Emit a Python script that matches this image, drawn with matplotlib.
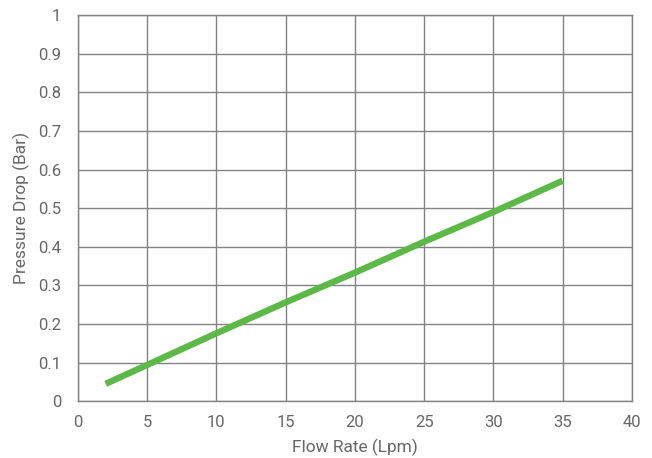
import matplotlib
matplotlib.use("Agg")
import matplotlib.pyplot as plt

flow_rate = [2, 5, 10, 15, 20, 25, 30, 35]
pressure_drop = [0.045, 0.094, 0.176, 0.256, 0.333, 0.413, 0.490, 0.571]
x_ticks = [0, 5, 10, 15, 20, 25, 30, 35, 40]
y_ticks = [0, 0.1, 0.2, 0.3, 0.4, 0.5, 0.6, 0.7, 0.8, 0.9, 1.0]
y_tick_labels = ["0", "0.1", "0.2", "0.3", "0.4", "0.5", "0.6", "0.7", "0.8", "0.9", "1"]

plt.rcParams['font.family'] = ['Roboto', 'DejaVu Sans']
text_color = "#666666"
grid_color = "#828282"

fig = plt.figure(figsize=(6.52, 4.58), dpi=100)
ax = fig.add_axes([0.1196, 0.124, 0.969 - 0.1196, 0.967 - 0.124])

ax.plot(flow_rate, pressure_drop, color="#5cb947", linewidth=4.6, solid_capstyle="butt", zorder=3)

ax.set_xlim(0, 40)
ax.set_ylim(0, 1)
ax.set_xticks(x_ticks)
ax.set_yticks(y_ticks)
ax.set_yticklabels(y_tick_labels)
ax.grid(True, color=grid_color, linewidth=1.0)
ax.set_axisbelow(True)
for s in ax.spines.values():
    s.set_color(grid_color)
    s.set_linewidth(1.0)
ax.tick_params(axis='y', length=0, pad=12, labelsize=12, colors=text_color)
ax.tick_params(axis='x', length=0, pad=10, labelsize=12, colors=text_color)
ax.set_xlabel("Flow Rate (Lpm)", fontsize=12.5, color=text_color, labelpad=6)
ax.set_ylabel("Pressure Drop (Bar)", fontsize=12.5, color=text_color, labelpad=6)

fig.savefig("out.png", dpi=100)
